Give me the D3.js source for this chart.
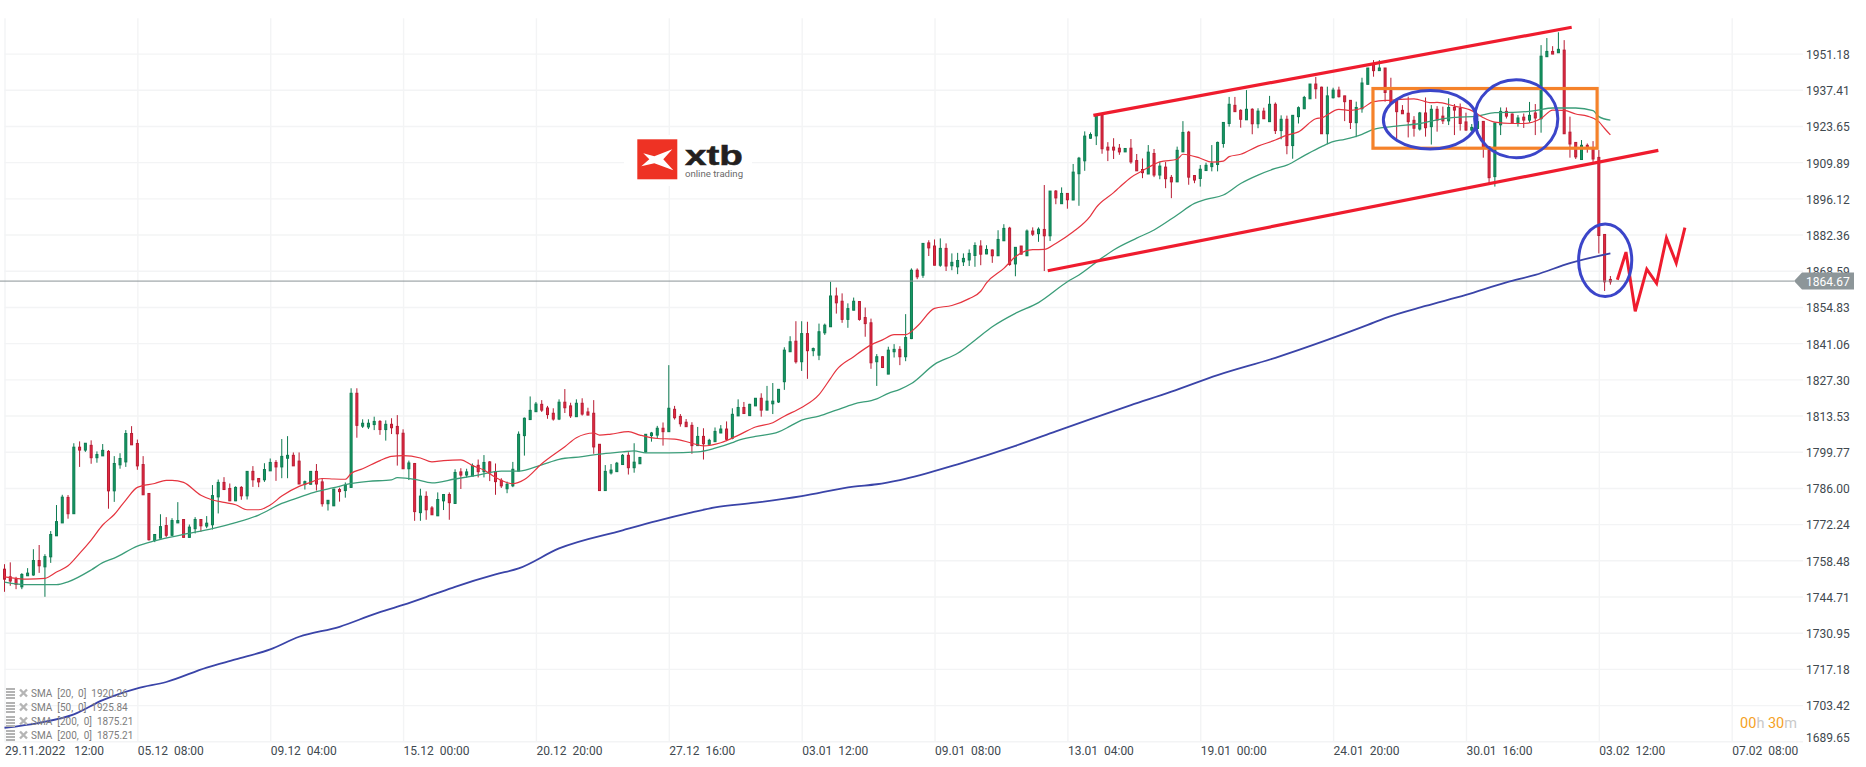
<!DOCTYPE html>
<html>
<head>
<meta charset="utf-8">
<script src="https://d3js.org/d3.v7.min.js"></script>
<style>
html, body { margin: 0; padding: 0; background: #fff; overflow: hidden; }
text { font-family: Roboto, sans-serif; }
.axis path, .axis line { display: none; }
.axis text { fill: #41494f; font-size: 12px; white-space: pre; }
.grid path { display: none; }
.grid line { stroke: #f3f4f5; stroke-width: 1.4; }
</style>
</head>
<body>
<svg id="chart" width="1866" height="767"></svg>
<script>
// price ticks and date ticks of the axes
const priceTicks = [1951.18,1937.41,1923.65,1909.89,1896.12,1882.36,1868.59,1854.83,1841.06,1827.30,1813.53,1799.77,1786.00,1772.24,1758.48,1744.71,1730.95,1717.18,1703.42,1689.65];
const dateTickIndex = [0,23,46,69,92,115,138,161,184,207,230,253,276,299];
const dateTickLabels = ["29.11.2022   12:00","05.12  08:00","09.12  04:00","15.12  00:00","20.12  20:00","27.12  16:00","03.01  12:00","09.01  08:00","13.01  04:00","19.01  00:00","24.01  20:00","30.01  16:00","03.02  12:00","07.02  08:00"];
const lastPrice = 1864.67;

// candles, one entry per bar. r = falling, g = rising
const directions = ("rrrgggrggg"+"grgrgrggrg"+"ggrrrrggrg"+"grggrgggrr"+"grgrrggrgg"+"rrggrrggrg"+"grgggrgrrr"+"grgrrggrgr"+"ggrgrrrggg"+"gggrrrgrrg"+
  "rrrrggggrg"+"ggggrgrrrr"+"grgggrggrg"+"grgggggrgr"+"ggggrrggrr"+"rgrggrggrg"+"rrgrgggggr"+"grggrgrgrg"+"rgrgrggggg"+"rrrrgrrrgr"+
  "grrggrrggg"+"gggrrgrgrg"+"rgrggggrrg"+"grrrgggrgr"+"rrrrrgrgrr"+"grrrggrrgg"+"rrgrgrggrg"+"rrrgrrrrr").split("");
const highs = [1757.0,1757.7,1752.2,1753.6,1755.5,1762.7,1764.3,1760.8,1769.6,1779.5,
1783.4,1783.3,1803,1803.7,1803,1804.1,1799.9,1802.7,1800.4,1798.1,
1799.2,1808,1809.5,1804.4,1798.1,1784,1768.3,1776,1774.9,1774.5,
1780.6,1774,1772.1,1774.9,1774,1775.3,1787.1,1789.2,1790.1,1787.7,
1786.6,1786.7,1792.4,1794.3,1789.7,1795.4,1797.2,1796.6,1804.6,1805.7,
1799.5,1799.5,1788.8,1792.3,1795.1,1789.7,1781.3,1785.6,1786.1,1788.1,
1823.9,1823.9,1812.1,1812.1,1813.1,1811.8,1811.7,1812.5,1813.7,1808.3,
1796.4,1795.5,1785.7,1784.7,1779.1,1784.3,1783.7,1784.3,1793.1,1793.5,
1793.3,1795.3,1796.8,1798.5,1796.2,1795.3,1789.7,1788.4,1795.9,1807.5,
1812.8,1820.8,1818.7,1819.4,1817.2,1816.3,1819.7,1823.6,1818.4,1819.7,
1820.1,1816.5,1819.4,1802.7,1794.7,1795.1,1795.9,1798.9,1799.6,1803,
1797.8,1806.5,1807.3,1809.6,1810.9,1832.7,1817.2,1814.1,1812.2,1811,
1809.2,1808.7,1804.7,1809,1809.9,1811.3,1816.3,1819.7,1818.7,1818,
1820.1,1822,1824.8,1825.9,1823.5,1839.5,1843.7,1849.4,1849.4,1849.2,
1839.4,1848.5,1848.5,1864.4,1862.2,1860,1856.2,1858.4,1857,1854.6,
1850.4,1836.9,1836.1,1839.7,1840.7,1839.9,1852.1,1869.5,1869.5,1879,
1880.2,1880.5,1880.9,1879,1875.2,1875.4,1875.2,1876.7,1879.4,1880.2,
1878.3,1876.7,1884,1886.3,1885.3,1877.5,1878,1884.3,1885.1,1885.1,
1901.2,1898.9,1899.3,1900.3,1898,1909.2,1911.9,1921.6,1921.2,1927.8,
1928.4,1917.5,1919,1916.8,1915.1,1918.7,1913,1911.3,1916.4,1914.9,
1910,1910,1905,1915.8,1925.5,1921.8,1905,1908.8,1909.7,1916.4,
1917.7,1925,1934.7,1934.7,1930,1937.3,1930.4,1930.4,1930.6,1935.1,
1932.6,1927.7,1927.6,1927.8,1931.1,1935.1,1939.6,1942.3,1938.6,1938.6,
1938.2,1938.6,1935.1,1933.5,1932.9,1942,1945.7,1948.7,1948.7,1945.7,
1942,1934.1,1931.6,1934.8,1927.4,1929,1934.5,1931.6,1931.2,1931,
1934.2,1932,1932.2,1928.7,1924.4,1925.3,1925.5,1915.8,1924.9,1930.7,
1930.7,1928.4,1927.8,1928.4,1932.8,1932,1954.4,1957.1,1954,1959.3,
1956.3,1927.2,1917.5,1918.3,1917,1917.9,1914.5,1882.5,1866.6];
const bodyTops = [1755.1,1752.2,1751.3,1753.1,1753.6,1758.4,1758.4,1759.9,1768.3,1773.2,
1782.5,1782.4,1801.5,1801.5,1803,1802.2,1798.7,1800.3,1799.9,1795.3,
1797.2,1806.7,1806.7,1802.9,1794.9,1783.9,1768.3,1771.3,1771.7,1773.6,
1773.6,1774,1771.1,1774,1774,1772.6,1783.1,1788.1,1788.1,1785.8,
1786.2,1786.2,1792.3,1792.3,1789.6,1793,1795.7,1795.7,1798,1798.4,
1798.4,1796.2,1788.4,1792.3,1792.3,1788.3,1781.3,1785.6,1785.4,1787,
1822,1822,1810.6,1810.6,1811.3,1811.3,1810.2,1810.2,1809.4,1806.8,
1795.5,1795.3,1782.9,1782.8,1778.4,1781.6,1783.5,1783.5,1791.9,1792.1,
1792.1,1794.5,1794.6,1795.7,1795.9,1792.2,1788.9,1787.4,1793.1,1806.4,
1812.5,1815.5,1817.9,1817.8,1816.4,1814.4,1818.6,1818.6,1817.2,1818.2,
1818.2,1814.9,1814.4,1802.6,1792.3,1792.8,1795.4,1798.4,1798.4,1795.8,
1797.6,1806.4,1806.9,1808.7,1808.7,1816.3,1815.9,1813.2,1811,1809.8,
1805.6,1805.6,1804.1,1807.5,1808.4,1808.4,1814,1816.6,1816.6,1817.8,
1820.1,1820.1,1819,1819,1823.5,1838.4,1841.6,1841.8,1844.7,1844.7,
1839,1845.4,1847.9,1859,1859,1857,1854.2,1857,1856.9,1850.8,
1848.8,1835.9,1835.9,1838.4,1838.7,1838.7,1843.2,1868.8,1868.8,1879,
1879.2,1878,1877.1,1877.1,1871.8,1872.5,1873.3,1875.2,1878.2,1878,
1876.7,1876.5,1880.5,1884.7,1884.8,1877.5,1878,1883.7,1883.7,1884.4,
1884.3,1898.9,1898.9,1898,1898,1906.1,1911.4,1919.8,1920.4,1927.8,
1927.8,1915.6,1915.6,1915.2,1915.1,1915.2,1910.5,1907.1,1913.7,1913.2,
1908.4,1908,1904.1,1914.4,1921.2,1921.3,1904.8,1907.2,1908.7,1909.4,
1917.4,1925,1931.9,1931.5,1929.6,1930,1930,1929.3,1929.3,1931.9,
1931.9,1926.2,1926.2,1927.7,1930.6,1934.5,1939.6,1939.6,1938.4,1935.1,
1937.3,1937.3,1935.1,1933.4,1930.7,1940,1945.7,1947.1,1945.7,1945.7,
1937.1,1933.8,1929.6,1928.5,1925.8,1928.6,1928.6,1930,1930,1927.4,
1930.7,1930.7,1930.3,1925.2,1923.1,1925.3,1925.4,1915.8,1924.8,1929.2,
1929.2,1928.2,1926.7,1927,1927.7,1928.6,1950.2,1952,1952,1952.8,
1952.5,1921.3,1917.4,1916.3,1916.3,1915.1,1911.7,1882.4,1865.3];
const bodyBottoms = [1751.3,1750.6,1749.3,1748.4,1752.6,1752.9,1756.4,1756,1759.8,1767.8,
1772.7,1776.2,1776.2,1800.4,1800.4,1797.5,1797.5,1798.2,1784.9,1784.9,
1794.8,1795.9,1802.4,1794.4,1783.4,1766.3,1766,1766.9,1768,1768,
1772.7,1767.2,1767.2,1770.5,1771.6,1771.5,1772,1782.6,1785.4,1781.1,
1781.1,1783,1783,1789.1,1788.3,1789.1,1792.5,1794,1794,1797.3,
1794.4,1787.5,1787.4,1787.4,1787.5,1780,1780,1779.2,1784.6,1785,
1786.2,1809.8,1809.5,1809.2,1810.1,1808.2,1808.2,1808.9,1806.6,1793.3,
1793.3,1777,1776.6,1777.7,1775.8,1775.4,1781.1,1780.4,1780.1,1790.9,
1790.9,1790.5,1792.2,1792.2,1791.7,1788.4,1786.8,1785.7,1786.8,1792.4,
1805.9,1812,1815,1815.6,1813.9,1812.2,1812.2,1816.5,1813.4,1813.1,
1814.1,1813.7,1801.6,1785,1785,1791.7,1792.2,1794.9,1793.7,1793.7,
1795.2,1799.7,1805.9,1806.1,1807.4,1807.4,1812.7,1810.4,1809.3,1802.1,
1802.1,1802.8,1802.6,1803.6,1806.9,1804.5,1804.9,1813.4,1814.3,1813.5,
1817.2,1815.6,1815.6,1818,1818.7,1826.4,1837.8,1834,1834,1838.2,
1838.2,1836.5,1845,1847.3,1856.4,1850.1,1850.1,1853.6,1850.1,1848.5,
1833.6,1834,1831.8,1829.3,1837.8,1835.9,1835.9,1842.8,1866.3,1866.9,
1877.3,1870.7,1870.7,1870.4,1870.5,1870.1,1872,1872.7,1874.4,1874.9,
1875,1874.3,1874.3,1880,1871,1871.2,1874.9,1874.3,1882.5,1882.7,
1881.9,1881.9,1896.3,1894.1,1895.6,1895.5,1905.5,1910.4,1919,1919.9,
1915,1914.5,1914.5,1913.8,1913.8,1910,1906.6,1905.9,1905.4,1905,
1905,1903.6,1902.4,1902.4,1913.8,1904.2,1903.1,1903.7,1906.7,1908.2,
1909,1917,1924.6,1929.1,1926.2,1926,1924.5,1924.5,1926.4,1925.3,
1921.9,1921.9,1916.2,1916.2,1927.2,1930.2,1934,1937.8,1920.7,1920.7,
1934.4,1934.8,1932.9,1925,1924.9,1930.2,1939.5,1944.7,1944.7,1936.4,
1932.1,1929.1,1928.3,1925.3,1922.8,1922.5,1923,1923.4,1925.9,1925.6,
1925.6,1929.7,1924.6,1922.1,1922.1,1922.7,1915.1,1904,1904.4,1924.1,
1927.4,1924.6,1924.6,1925.9,1925.9,1926.7,1926.4,1950,1951,1951.5,
1920.7,1916.8,1911.9,1910.9,1915.1,1911.1,1882,1864.4,1864.4];
const lows = [1746.5,1748.8,1747.5,1747.5,1752.6,1752.6,1753.7,1744.6,1757.5,1767.8,
1772.7,1774.3,1776.2,1794,1799.7,1795.2,1795.6,1798.2,1778.1,1780.7,
1793.3,1794,1802.4,1792.9,1783.4,1766,1765.4,1766.9,1767.2,1767.7,
1772.7,1767.2,1767.2,1768.7,1769.3,1770.7,1770.2,1776.3,1785.2,1781,
1781,1781.5,1781.6,1786.4,1786.3,1788.3,1792.5,1788.7,1789.7,1789.7,
1794.4,1787.5,1785.4,1787.4,1785,1778.9,1777.4,1779.2,1780.8,1782.3,
1786.2,1805.1,1808.8,1808.4,1808,1806.2,1804,1806.5,1794.5,1793.3,
1789,1773.5,1773.5,1773.9,1775.8,1775.4,1777.6,1773.9,1779.9,1785.6,
1789.9,1790.5,1790,1790,1788.6,1783.4,1786,1784,1786.3,1792.4,
1798.3,1812,1815,1814.9,1812.3,1811.6,1811.8,1814.5,1812.6,1813.1,
1813.5,1813.7,1799,1785,1785,1791.1,1792.2,1794.9,1791.1,1791.8,
1795.2,1799.4,1803.6,1804.9,1802.1,1807.4,1812,1809.3,1809.3,1799,
1802.1,1796.8,1802.6,1803.6,1806.9,1803.8,1804.5,1813.4,1814.3,1813.5,
1817.2,1813.1,1815.6,1814.1,1818.3,1823.3,1837.8,1833.3,1830.5,1827.5,
1836.1,1834.6,1844.2,1847.3,1852.3,1848.8,1846.9,1853.6,1849.6,1843.5,
1831.3,1824.8,1831.6,1829.3,1835.6,1832.7,1834.2,1842.6,1865.4,1865.9,
1874.2,1870.7,1870.1,1868.5,1868.8,1867.3,1870.4,1870.4,1870.1,1870.7,
1874.9,1871.6,1874.3,1880,1870.5,1866.5,1874.9,1874.3,1881.8,1879.6,
1868.5,1879.9,1893.9,1894.1,1892.2,1895.5,1893.3,1906.6,1918.8,1916.4,
1913.1,1910.3,1911.1,1912.7,1913.8,1909.3,1906.6,1903.8,1905.4,1904.2,
1903.4,1900,1896.2,1902.4,1913.8,1901.3,1901.9,1900.6,1906.7,1906.4,
1906.4,1915.4,1923.4,1929.1,1923,1926,1920.5,1922.8,1926.4,1925.3,
1920.6,1918.6,1912.9,1911.2,1924.6,1930.2,1934,1934,1920.7,1916.7,
1934.1,1934.5,1925.5,1922.5,1919.4,1928.7,1939.5,1942.4,1944.7,1932.9,
1932.1,1918.6,1928.3,1919.3,1919.6,1921.9,1919.6,1916.6,1921.5,1924.4,
1924,1920.2,1921.9,1921.9,1921.5,1920.8,1911.6,1901.8,1900.6,1920.2,
1926.5,1924.6,1923.4,1922.9,1924.9,1920.2,1921.1,1950,1951,1951.5,
1920.7,1911.6,1911.1,1910.9,1913.5,1910,1875.2,1860.9,1863.3];

// moving averages: [bar index, price]
const sma20 = [[0,1752.2],[4,1751.3],[7,1751.6],[9,1754],[11,1756.4],[13,1761.1],[15,1766.2],[17,1771.9],[19,1775.9],[21,1781.4],[23,1786.2],[26,1787.7],[28,1788.9],[29,1788.9],[31,1788.1],[34,1783.2],[36,1781.4],[38,1780.5],[40,1779.6],[42,1777.7],[44,1777.7],[46,1779.5],[48,1782.9],[51,1786.6],[53,1788.1],[55,1789.6],[57,1789.4],[59,1789.3],[60,1791.5],[62,1793.3],[65,1796.4],[67,1798],[69,1798.3],[72,1797.4],[74,1795.9],[76,1796.4],[79,1796.7],[81,1794.5],[83,1792.8],[85,1790],[88,1787.6],[90,1789.2],[93,1795.2],[97,1801.7],[99,1805.1],[102,1806.9],[103,1806.1],[105,1806.5],[108,1807.4],[110,1806.1],[113,1804.8],[116,1804.6],[119,1803],[121,1802],[124,1803.2],[127,1806],[130,1809.2],[133,1810.8],[135,1813.3],[138,1816.6],[141,1821.5],[143,1827.7],[144,1830.8],[147,1835.9],[150,1840.4],[152,1842.3],[154,1844.3],[156,1844.3],[158,1847.5],[161,1854.3],[164,1855.4],[167,1858],[169,1860.8],[170,1864],[173,1869.5],[175,1873.9],[178,1876.6],[180,1876.7],[182,1879],[185,1883.4],[188,1889.5],[189,1892.7],[192,1898.3],[193,1900.3],[195,1904.1],[197,1906.6],[200,1910],[203,1911],[204,1912.9],[207,1911.4],[209,1909.9],[211,1910.3],[212,1912],[214,1912.9],[217,1916],[220,1918.3],[222,1920.2],[224,1921.4],[227,1926.4],[228,1926.8],[231,1930],[233,1929.6],[235,1930.4],[237,1932.9],[240,1933.5],[244,1934],[247,1932.5],[248,1932.6],[251,1931.2],[254,1929.5],[256,1926.8],[258,1925.1],[261,1924.6],[263,1924.6],[266,1926.5],[268,1929.7],[270,1929.6],[272,1928.2],[274,1927.4],[276,1925.3],[277,1922.7],[278,1920.26]];
const sma50 = [[0,1750.2],[4,1749.2],[9,1749.2],[11,1750.3],[15,1754.8],[17,1757.6],[19,1759.3],[23,1763.9],[26,1765.9],[31,1768.3],[36,1770.5],[40,1772.8],[44,1775.7],[48,1780.1],[51,1782.4],[54,1784.6],[57,1786.1],[60,1787.7],[63,1788.5],[67,1789.1],[68,1789.9],[71,1789.3],[74,1787.9],[78,1789.4],[82,1790.9],[86,1792.4],[89,1792.4],[93,1794.8],[96,1796.9],[100,1797.9],[103,1798.9],[107,1799.7],[109,1800.1],[111,1799.3],[115,1799.3],[120,1799.7],[123,1801.1],[126,1803.2],[127,1804.1],[130,1805.6],[134,1807.3],[136,1809.5],[138,1811.8],[141,1813.3],[144,1815.6],[147,1817.9],[151,1819.9],[153,1822],[155,1823.5],[157,1825.7],[161,1833],[165,1837.2],[168,1842.2],[171,1847.3],[175,1852.4],[179,1856.5],[184,1864.4],[186,1867],[190,1873.5],[192,1876.5],[196,1881],[199,1884.1],[203,1889.8],[206,1894.2],[208,1895.7],[211,1897.4],[214,1901.8],[217,1905],[220,1907.5],[222,1908.8],[225,1912.4],[228,1915.8],[230,1917.7],[232,1918.6],[235,1920.5],[237,1922.4],[241,1923.6],[245,1924.6],[248,1926],[251,1926.9],[255,1927.4],[258,1928.7],[262,1928.9],[265,1929.5],[268,1930.5],[272,1930.5],[275,1929.5],[276,1927.2],[278,1925.84]];
const sma200 = [[0,1694.8],[6,1696.7],[12,1699.9],[17,1705.3],[23,1709.8],[28,1712.2],[35,1717.7],[40,1720.8],[46,1724.6],[51,1729.4],[58,1733.2],[64,1738],[69,1741.5],[74,1745.3],[78,1748.4],[85,1753.1],[89,1755.4],[96,1763],[107,1769.9],[113,1773.5],[119,1776.7],[123,1778.6],[130,1780.4],[138,1782.9],[147,1786.5],[151,1787.4],[155,1789],[165,1795],[175,1802],[182,1807.5],[188,1812.2],[195,1817.5],[202,1822.6],[210,1828.9],[220,1835.5],[229,1842.3],[236,1848],[239,1850.6],[246,1855.2],[253,1859.4],[260,1864.2],[265,1867],[271,1871.5],[278,1875.21]];

// hand drawn marks on the chart, also in bars and prices
const upperTrend = [[188.5,1927.7],[271.3,1961.2]];
const lowerTrend = [[180.6,1868.6],[286.3,1914.4]];
const forecast = [[279.2,1865.2],[280.7,1875.7],[282.3,1853.2],[284.3,1869.2],[286,1863.8],[287.7,1881.1],[289.4,1871.5],[290.9,1885]];
const box = {from: 236.9, to: 275.7, top: 1937.9, bottom: 1915.2};
const circles = [[246.8,1926,8.1,11.1],[261.7,1926.4,7.2,14.8],[277.1,1872.6,4.6,13.8]];

const legendNames = ["SMA  [20,  0]  1920.26","SMA  [50,  0]  1925.84","SMA  [200,  0]  1875.21","SMA  [200,  0]  1875.21"];

const svg = d3.select("#chart");
const x = d3.scaleLinear().domain([0,299]).range([4.5,1731.7]);
const y = d3.scaleLinear().domain([1689.65,1951.18]).range([741.3,53.6]);

// grid
svg.append("g").attr("class","grid").attr("transform","translate(4.5,0)")
  .call(d3.axisRight(y).tickValues(priceTicks).tickSize(1798.5).tickFormat(""));
svg.append("g").attr("class","grid").attr("transform","translate(0,741.3)")
  .call(d3.axisTop(x).tickValues(dateTickIndex).tickSize(723).tickFormat(""));

// axes labels
const yAxis = svg.append("g").attr("class","axis").attr("transform","translate(1803,1)")
  .call(d3.axisRight(y).tickValues(priceTicks).tickSize(0).tickPadding(3).tickFormat(d3.format(".2f")));
yAxis.selectAll("text").filter(d => d === 1689.65).attr("dy","-0.05em");
svg.append("g").attr("class","axis").attr("transform","translate(0,741)")
  .call(d3.axisBottom(x).tickValues(dateTickIndex).tickSize(0).tickPadding(5.5)
    .tickFormat((d,i) => dateTickLabels[i]))
  .selectAll("text").attr("text-anchor","start");

// logo, sits on a white patch over the grid
const logo = svg.append("g");
logo.append("rect").attr("x",624).attr("y",135).attr("width",128).attr("height",51).attr("fill","#fff");
logo.append("rect").attr("x",637.3).attr("y",139.3).attr("width",40).attr("height",40).attr("fill","#ee3224");
logo.append("path").attr("transform","translate(637.3,139.3)")
  .attr("d","M6 14 L17 17 L35 10 L26 20 L36 31 L17 24 L4 27 L12 20 Z").attr("fill","#fff");
logo.append("text").attr("transform","translate(685,165) scale(1.38,1)").style("font-family","'Liberation Sans'")
  .attr("font-weight",700).attr("font-size",28).attr("stroke","#231f20").attr("stroke-width",0.5).attr("fill","#231f20").text("xtb");
logo.append("text").attr("x",685).attr("y",177).attr("font-size",9.6).attr("fill","#6a6a6a").text("online trading");

// candles
const bars = d3.range(highs.length);
const upFill = "#169a64", upLine = "#0c7a50", downFill = "#e42a42", downLine = "#b81c33";
const candles = svg.append("g");
candles.selectAll("line").data(bars).enter().append("line")
  .attr("x1",i => x(i)).attr("x2",i => x(i))
  .attr("y1",i => y(highs[i])).attr("y2",i => y(lows[i]))
  .attr("stroke",i => directions[i] === "g" ? upLine : downLine).attr("stroke-width",1);
candles.selectAll("rect").data(bars).enter().append("rect")
  .attr("x",i => x(i)-1).attr("width",2)
  .attr("y",i => y(bodyTops[i]))
  .attr("height",i => Math.max(1,y(bodyBottoms[i])-y(bodyTops[i])))
  .attr("fill",i => directions[i] === "g" ? upFill : downFill)
  .attr("stroke",i => directions[i] === "g" ? upLine : downLine).attr("stroke-width",1);

// last price line and its tag
svg.append("line").attr("x1",0).attr("x2",1794).attr("y1",y(lastPrice)).attr("y2",y(lastPrice))
  .attr("stroke","#8b9396").attr("stroke-width",1);
const tagY = y(lastPrice);
svg.append("path")
  .attr("d",d3.line()([[1794,tagY],[1802,tagY-8.5],[1854,tagY-8.5],[1854,tagY+8.5],[1802,tagY+8.5]])+"Z")
  .attr("fill","#8d9699");
svg.append("text").attr("x",1806).attr("y",tagY+1).attr("dy","0.32em").attr("font-size",12).attr("fill","#fff")
  .text(d3.format(".2f")(lastPrice));

// moving averages
const line = d3.line().x(d => x(d[0])).y(d => y(d[1]));
const smoothLine = d3.line().x(d => x(d[0])).y(d => y(d[1])).curve(d3.curveMonotoneX);
[[sma200,"#3a44a8",1.8],[sma50,"#3b9d79",1.3],[sma20,"#e5343f",1.2]].forEach(s => {
  svg.append("path").attr("d",smoothLine(s[0])).attr("fill","none").attr("stroke",s[1]).attr("stroke-width",s[2]);
});

// drawn annotations
const red = "#ef1c2e";
[upperTrend,lowerTrend].forEach(t => {
  svg.append("path").attr("d",line(t)).attr("fill","none").attr("stroke",red).attr("stroke-width",3.2);
});
svg.append("path").attr("d",line(forecast)).attr("fill","none").attr("stroke",red).attr("stroke-width",3).attr("stroke-linejoin","miter");
svg.append("rect").attr("x",x(box.from)).attr("y",y(box.top))
  .attr("width",x(box.to)-x(box.from)).attr("height",y(box.bottom)-y(box.top))
  .attr("fill","none").attr("stroke","#f5822a").attr("stroke-width",3.2);
svg.selectAll("ellipse").data(circles).enter().append("ellipse")
  .attr("cx",d => x(d[0])).attr("cy",d => y(d[1]))
  .attr("rx",d => x(d[2])-x(0)).attr("ry",d => y(0)-y(d[3]))
  .attr("fill","none").attr("stroke","#3b45c9").attr("stroke-width",3);

// legend in the lower left corner
const legend = svg.append("g").selectAll("g").data(legendNames).enter().append("g")
  .attr("transform",(d,i) => "translate(0," + (693.5 + i*14) + ")");
legend.each(function(){
  const g = d3.select(this);
  [-4.5,-1.5,1.5,4.5].forEach(dy => g.append("line").attr("x1",6).attr("x2",15).attr("y1",dy).attr("y2",dy)
    .attr("stroke","#b3b3b3").attr("stroke-width",2));
  g.append("path").attr("d","M20 -4 L27 3 M27 -4 L20 3").attr("stroke","#b5b5b5").attr("stroke-width",2.4);
});
legend.append("text").attr("x",31).attr("y",0).attr("dy","0.36em").attr("font-size",10).attr("fill","#7d7d7d")
  .style("white-space","pre").text(d => d);

// candle countdown
const timer = svg.append("text").attr("x",1797).attr("y",722.5).attr("dy","0.36em").attr("text-anchor","end").attr("font-size",14.5);
[["00","#f5a21f"],["h ","#c9c9c9"],["30","#f5a21f"],["m","#c9c9c9"]].forEach(p => {
  timer.append("tspan").attr("fill",p[1]).style("white-space","pre").text(p[0]);
});
</script>
</body>
</html>
